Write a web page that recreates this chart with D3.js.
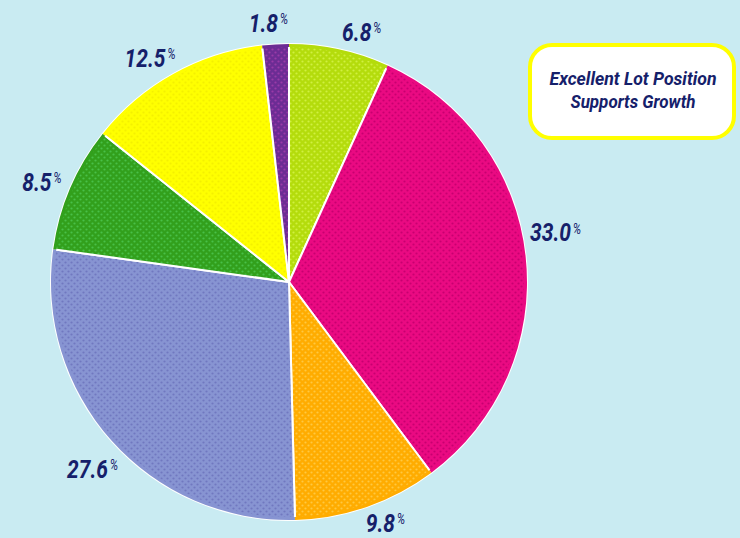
<!DOCTYPE html>
<html><head><meta charset="utf-8">
<script src="https://cdn.jsdelivr.net/npm/d3@7/dist/d3.min.js"></script>
<style>
html,body{margin:0;padding:0;background:#c9ebf2;}
svg{display:block;}
</style></head>
<body>
<svg id="chart" width="740" height="538"></svg>
<script>
// Data
const categories = ["A","B","C","D","E","F","G"];
const values = [6.8, 33.0, 9.8, 27.6, 8.5, 12.5, 1.8];
const labels = ["6.8","33.0","9.8","27.6","8.5","12.5","1.8"];
const colors = ["#b4dc0c","#ea0a82","#ffac00","#8794d2","#32a01c","#ffff00","#6c2c94"];
const dotColors = ["#d0f040","#c80070","#ffc840","#7078c0","#48c048","#f4f000","#9a3aa8"];
const titleLines = ["Excellent Lot Position","Supports Growth"];

// layout (label nudges from arc centroid)
const labelNudge = [[18,2],[10,-22],[12,-3],[-4,15],[-10,2],[-14,2],[-6,-1]];

const svg = d3.select("#chart");
const W = 740, H = 538;
const cx = 289, cy = 282, R = 238;
const fontFam = "Roboto,'Liberation Sans',sans-serif";

svg.append("rect").attr("width",W).attr("height",H).attr("fill","#c9ebf2");

const defs = svg.append("defs");
colors.forEach((c,i)=>{
  const p = defs.append("pattern").attr("id","pat"+i).attr("patternUnits","userSpaceOnUse")
    .attr("width",6).attr("height",6);
  p.append("rect").attr("width",6).attr("height",6).attr("fill",c);
  p.append("circle").attr("cx",1.5).attr("cy",1.5).attr("r",1.1).attr("fill",dotColors[i]);
  p.append("circle").attr("cx",4.5).attr("cy",4.5).attr("r",1.1).attr("fill",dotColors[i]);
});

const pie = d3.pie().sort(null).value(d=>d);
const arcs = pie(values);
const arc = d3.arc().innerRadius(0).outerRadius(R);
const rim = d3.arc().innerRadius(R-3).outerRadius(R);

const g = svg.append("g").attr("transform",`translate(${cx},${cy})`);
g.selectAll("path.slice").data(arcs).join("path").attr("class","slice")
  .attr("d",arc).attr("fill",(d,i)=>`url(#pat${i})`)
  .attr("stroke","#ffffff").attr("stroke-width",2).attr("stroke-linejoin","round");
g.selectAll("path.rim").data(arcs).join("path").attr("class","rim")
  .attr("d",rim).attr("fill",(d,i)=>colors[i]);

// labels
const labelArc = d3.arc().innerRadius(258).outerRadius(258);
const lg = g.selectAll("g.lab").data(arcs).join("g").attr("class","lab")
  .attr("transform",(d,i)=>{const [x,y]=labelArc.centroid(d);
     return `translate(${x+labelNudge[i][0]},${y+labelNudge[i][1]+9})`;});
const lt = lg.append("text").attr("transform","scale(0.84,1)")
  .attr("text-anchor","middle")
  .attr("font-family",fontFam).attr("font-style","italic").attr("font-weight","bold")
  .attr("font-size",25).attr("fill","#15206a");
lt.append("tspan").text((d,i)=>labels[i]);
lt.append("tspan").text("%").attr("font-size",14).attr("font-weight","normal").attr("dy",-8).attr("dx",2);

// title box
svg.append("rect").attr("x",530).attr("y",45).attr("width",204).attr("height",93).attr("rx",22)
  .attr("fill","#ffffff").attr("stroke","#ffff00").attr("stroke-width",4);
const tLens = [167,125];
svg.selectAll("text.title").data(titleLines).join("text").attr("class","title")
  .attr("x",633).attr("y",(d,i)=>85+i*23).attr("text-anchor","middle")
  .attr("font-family",fontFam).attr("font-style","italic").attr("font-weight","bold")
  .attr("font-size",18).attr("fill","#15206a")
  .attr("textLength",(d,i)=>tLens[i]).attr("lengthAdjust","spacingAndGlyphs").text(d=>d);
</script>
</body></html>
